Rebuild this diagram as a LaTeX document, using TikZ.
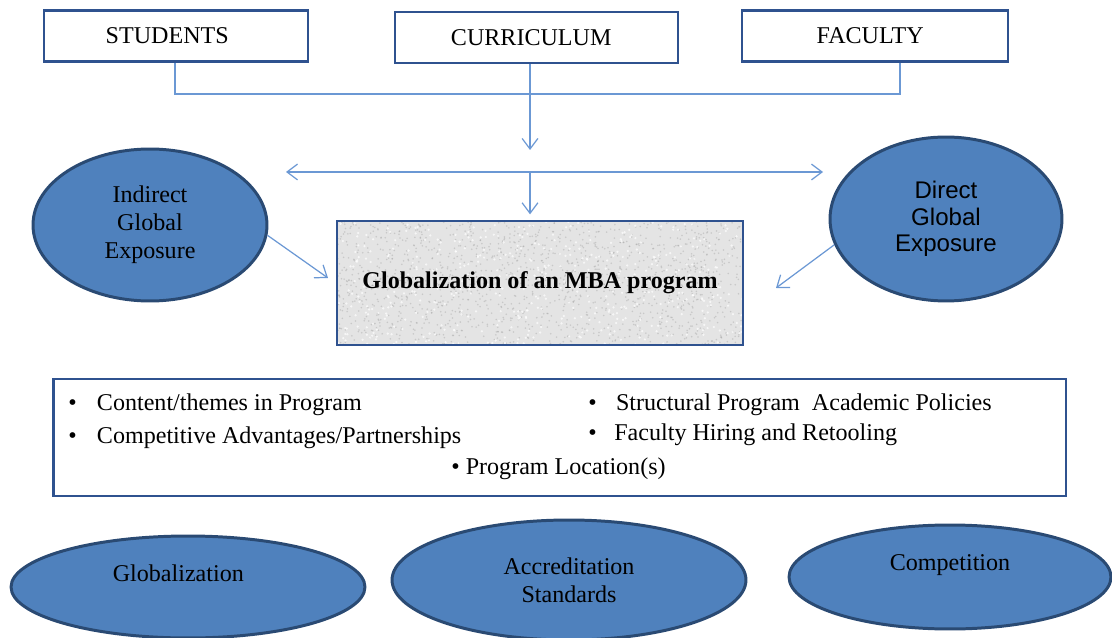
\documentclass[tikz,border=0pt]{standalone}
\usepackage{fontspec}
\setmainfont{Liberation Serif}
\setsansfont{Liberation Sans}
\usetikzlibrary{shapes.geometric,arrows.meta,backgrounds}
\definecolor{boxblue}{HTML}{2F528F}
\definecolor{ovalfill}{HTML}{4F81BD}
\definecolor{ovalline}{HTML}{2A4A73}
\definecolor{linkblue}{HTML}{6B98D4}
\definecolor{granite}{HTML}{E4E4E4}

\begin{document}
\begin{tikzpicture}[x=0.02cm,y=-0.02cm,font=\fontsize{13.7}{16}\selectfont]
\tikzset{BoxStyle/.style = 
		{shape = rectangle,
		minimum height = 1.02cm,
		draw = boxblue,
		line width = 1.6pt,
		fill = white,
		inner sep = 0pt},
	OvalStyle/.style = 
		{shape = ellipse,
	%	shading = ball,
		draw = ovalline,
		line width = 1.7pt,
		fill = ovalfill,
		align = center,
		inner sep = 0pt},
	LinkStyle/.style = {draw = linkblue, line width = 0.7pt},
	ArrowStyle/.style = {LinkStyle, -{Straight Barb[length=6pt,width=9pt]}},
	TwoWayStyle/.style = {LinkStyle, {Straight Barb[length=6pt,width=9pt]}-{Straight Barb[length=6pt,width=9pt]}},
	PointStyle/.style = {anchor = base west, inner sep = 0pt}}
	\useasboundingbox (0,0) rectangle (1112,638);

	\node[BoxStyle, minimum width = 5.28cm] (Students) at (176,36) {STUDENTS\kern10pt};
	\node[BoxStyle, minimum width = 5.66cm] (Curriculum) at (536.5,37.5) {CURRICULUM\kern6pt};
	\node[BoxStyle, minimum width = 5.32cm] (Faculty) at (875,36) {FACULTY\kern5.5pt};

	\node[OvalStyle, minimum width = 4.68cm, minimum height = 3.04cm] (Indirect) at (150,225) {Indirect\\Global\\Exposure};
	\node[OvalStyle, minimum width = 4.64cm, minimum height = 3.28cm,
		font = \fontsize{13.7}{15}\selectfont\sffamily] (Direct) at (946,219) {Direct\\Global\\Exposure};

	\node[BoxStyle, minimum width = 8.12cm, minimum height = 2.48cm, fill = none] (Main) at (540,283) {\textbf{Globalization of an MBA program}};
	\begin{scope}[on background layer]
		\fill[granite] (Main.south west) rectangle (Main.north east);
		\clip (Main.south west) rectangle (Main.north east);
		\pgfmathsetseed{11}
		\foreach \k in {1,...,1500}
			\fill[gray!75, opacity = .4] ({337+406*rnd},{221+124*rnd}) circle (0.5pt);
		\foreach \k in {1,...,500}
			\fill[white, opacity = .7] ({337+406*rnd},{221+124*rnd}) circle (0.7pt);
	\end{scope}

	\coordinate (Bus) at (900,94);
	\coordinate (Hub) at (530,172);
	\coordinate (Drop) at (530,150);
	\coordinate (SpreadL) at (286,172);
	\coordinate (SpreadR) at (823,172);
	\coordinate (IndTip) at (328,278);
	\coordinate (DirTip) at (776,288);
	\draw[LinkStyle] (Students.south -| 175,0) |- (Bus) -- (Faculty.south -| Bus);
	\draw[ArrowStyle] (Curriculum.south -| Hub) -- (Drop);
	\draw[TwoWayStyle] (SpreadL) -- (SpreadR);
	\draw[ArrowStyle, shorten >= 3pt] (Hub) -- (Hub |- Main.north);
	\draw[ArrowStyle] (Indirect.-5) -- (IndTip);
	\draw[ArrowStyle] (Direct.193) -- (DirTip);

	\node[BoxStyle, minimum width = 20.26cm, minimum height = 2.34cm] (Levers) at (559.5,437.5) {};
	\node[PointStyle] (Content) at (68,411) {•\hspace{11.5pt}Content/themes in Program};
	\node[PointStyle] (Advantage) at (68,443) {•\hspace{11.5pt}Competitive Advantages/Partnerships};
	\node[PointStyle] (Policies) at (588,411) {•\hspace{11pt}Structural Program\ \ Academic Policies};
	\node[PointStyle] (Hiring) at (588,440) {•\hspace{10pt}Faculty Hiring and Retooling};
	\node[PointStyle] (Location) at (451,474) {• Program Location(s)};

	\node[OvalStyle, minimum width = 7.08cm, minimum height = 2.04cm] (Global) at (188,587) {Globalization\kern11pt\\~};
	\node[OvalStyle, minimum width = 7.08cm, minimum height = 2.4cm] (Accredit) at (569,580) {Accreditation\\Standards};
	\node[OvalStyle, minimum width = 6.44cm, minimum height = 2.08cm] (Compete) at (950,577) {Competition\\~};
\end{tikzpicture}
\end{document}
